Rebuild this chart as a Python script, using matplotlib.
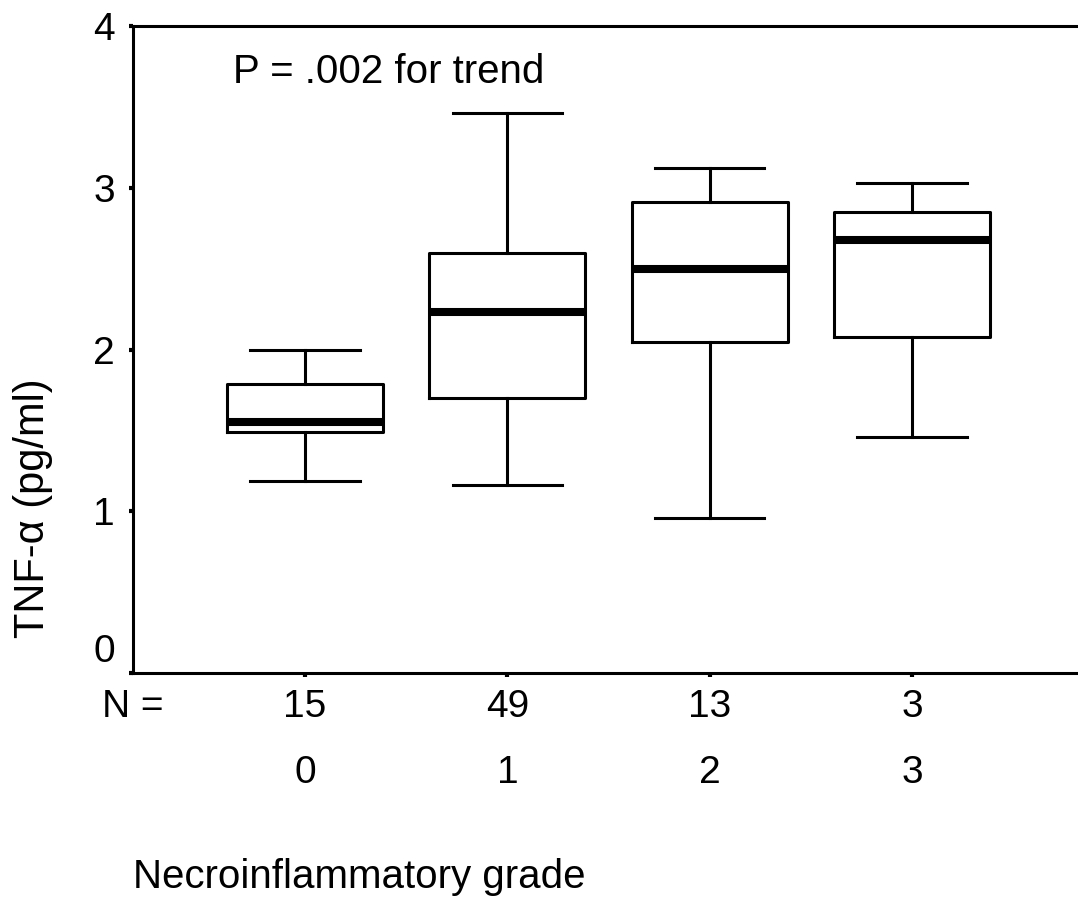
import matplotlib
matplotlib.use("Agg")
import matplotlib.pyplot as plt

plt.rcParams['font.family'] = ['Liberation Sans', 'DejaVu Sans']

grades = ['0', '1', '2', '3']
n_counts = ['15', '49', '13', '3']
whisk_lo = [1.19, 1.16, 0.96, 1.46]
q1 = [1.49, 1.70, 2.05, 2.08]
medians = [1.55, 2.23, 2.50, 2.68]
q3 = [1.79, 2.60, 2.91, 2.85]
whisk_hi = [2.00, 3.46, 3.12, 3.03]
y_ticks = [0, 1, 2, 3, 4]

stats = []
for g, lo, a, m, b, hi in zip(grades, whisk_lo, q1, medians, q3, whisk_hi):
    stats.append(dict(label=g, whislo=lo, q1=a, med=m, q3=b, whishi=hi, fliers=[]))

fig = plt.figure(figsize=(10.78, 9.01), dpi=100)
ax = fig.add_axes([0.1234, 0.253, 0.8766, 0.718])

lw = 2.2
positions = [1, 2, 3, 4]
ax.bxp(stats, positions=positions, widths=0.77, capwidths=0.54,
       showfliers=False,
       boxprops=dict(color='black', linewidth=lw),
       whiskerprops=dict(color='black', linewidth=lw),
       capprops=dict(color='black', linewidth=lw),
       medianprops=dict(color='black', linewidth=5.8, solid_capstyle='butt'))

ax.set_xlim(0.15, 4.82)
ax.set_ylim(0, 4)
ax.set_yticks(y_ticks)
# the 0 label sits a bit above its tick in the original, drawn separately
ax.set_yticklabels([''] + [str(t) for t in y_ticks[1:]])
ax.annotate(str(y_ticks[0]), xy=(0, y_ticks[0]),
            xycoords=('axes fraction', 'data'), xytext=(-13, 15),
            textcoords='offset points', fontsize=28, ha='right', va='center')
ax.set_xticks(positions)
ax.set_xticklabels([])
ax.tick_params(axis='y', labelsize=28, length=3, width=3, pad=10)
ax.tick_params(axis='x', length=3, width=3)

for side in ['left', 'top', 'bottom']:
    ax.spines[side].set_linewidth(2.2)
ax.spines['right'].set_visible(False)

tr = ax.get_xaxis_transform()
ax.text(0.032, -0.0526, 'N =', transform=ax.transAxes, fontsize=28,
        ha='right', va='center')
for p, n, g in zip(positions, n_counts, grades):
    ax.text(p, -0.0526, n, transform=tr, fontsize=28, ha='center', va='center')
    ax.text(p, -0.1546, g, transform=tr, fontsize=28, ha='center', va='center')

ax.text(0.0, -0.315, 'Necroinflammatory grade', transform=ax.transAxes,
        fontsize=29, ha='left', va='center')
ax.text(0.106, 0.929, 'P = .002 for trend', transform=ax.transAxes,
        fontsize=29, ha='left', va='center')

fig.text(0.031, 1 - 508 / 901, 'TNF-α (pg/ml)', rotation=90, fontsize=30,
         ha='center', va='center')

fig.savefig('out.png', dpi=100, facecolor='white')
